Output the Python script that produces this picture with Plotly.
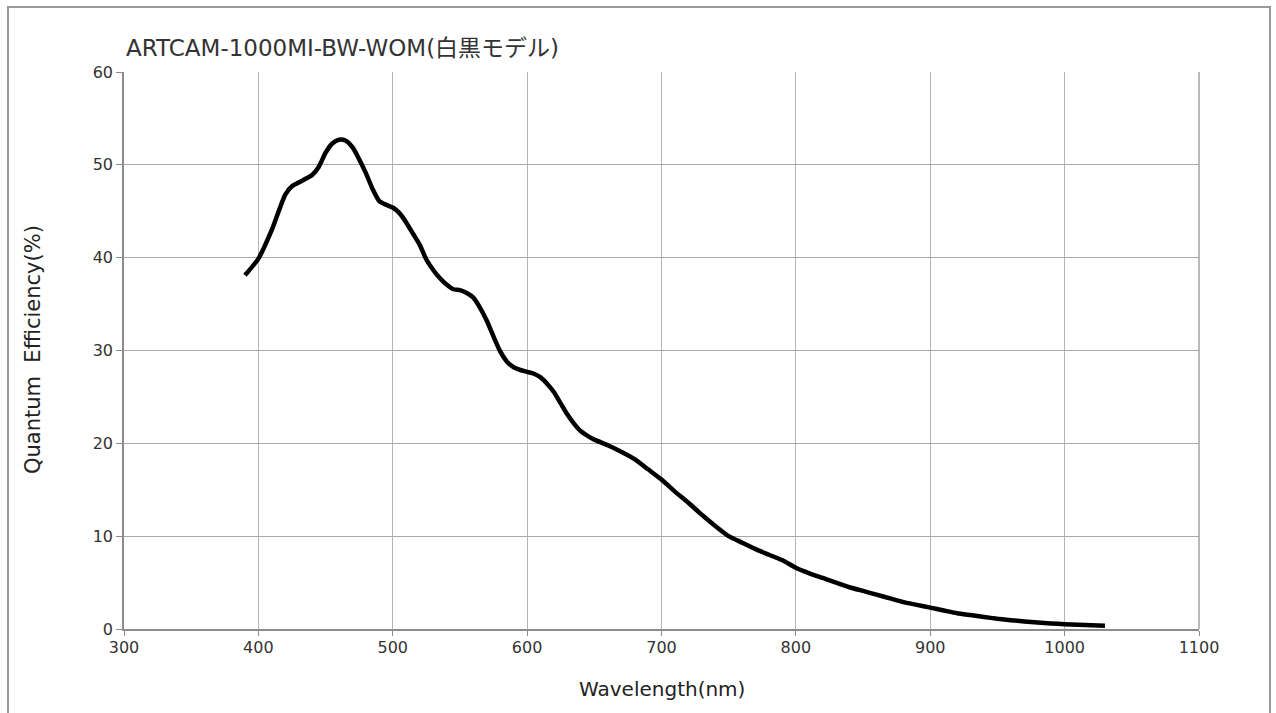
import plotly.graph_objects as go

# Spectral response of the monochrome sensor
wavelength_nm = [390, 400, 410, 420, 425, 430, 440, 445, 450, 455, 460, 465, 470, 475,
                 480, 485, 490, 495, 500, 505, 510, 515, 520, 525, 530, 535, 540, 545,
                 550, 555, 560, 565, 570, 575, 580, 585, 590, 595, 600, 605, 610, 615,
                 620, 625, 630, 635, 640, 645, 650, 660, 670, 680, 690, 700, 710, 720,
                 730, 740, 750, 760, 770, 780, 790, 800, 810, 820, 830, 840, 850, 860,
                 870, 880, 890, 900, 910, 920, 930, 940, 950, 960, 970, 980, 990, 1000,
                 1010, 1020, 1030]
quantum_eff = [38.1, 39.9, 43.0, 46.8, 47.7, 48.1, 48.9, 49.8, 51.3, 52.3, 52.7, 52.6, 51.9, 50.6,
               49.1, 47.4, 46.1, 45.7, 45.4, 44.8, 43.8, 42.6, 41.4, 39.8, 38.7, 37.8, 37.1, 36.6,
               36.5, 36.2, 35.7, 34.6, 33.2, 31.5, 29.9, 28.8, 28.2, 27.9, 27.7, 27.5, 27.1, 26.4,
               25.5, 24.3, 23.1, 22.1, 21.3, 20.8, 20.4, 19.8, 19.1, 18.3, 17.2, 16.1, 14.8, 13.6,
               12.3, 11.1, 10.0, 9.3, 8.6, 8.0, 7.4, 6.6, 6.0, 5.5, 5.0, 4.5, 4.1, 3.7,
               3.3, 2.9, 2.6, 2.3, 2.0, 1.7, 1.5, 1.3, 1.1, 0.95, 0.82, 0.7, 0.6, 0.52,
               0.45, 0.4, 0.36]

x_ticks = [300, 400, 500, 600, 700, 800, 900, 1000, 1100]
y_ticks = [0, 10, 20, 30, 40, 50, 60]

title_text = "ARTCAM-1000MI-BW-WOM(白黒モデル)"
x_title = "Wavelength(nm)"
y_title = "Quantum  Efficiency(%)"

FONT = "DejaVu Sans, Noto Sans CJK JP"

fig = go.Figure()
fig.add_trace(go.Scatter(
    x=wavelength_nm, y=quantum_eff, mode="lines",
    line=dict(color="black", width=4.5, shape="spline", smoothing=0.6),
    showlegend=False, hoverinfo="x+y",
))

W, H = 1276, 713
L, R, T, B = 124, 1199, 72, 629
pw, ph = R - L, B - T


def px_x(p):
    return (p - L) / pw


def px_y(p):
    return (B - p) / ph


fig.update_layout(
    width=W, height=H,
    margin=dict(l=L, r=W - R, t=T, b=H - B),
    paper_bgcolor="white", plot_bgcolor="white",
    font=dict(family=FONT, color="#333333", size=16),
    xaxis=dict(
        range=[300, 1100], tickvals=x_ticks, ticktext=[str(v) for v in x_ticks],
        showgrid=True, gridcolor="#b4b4b4", gridwidth=1,
        showline=True, linecolor="#8c8c8c", linewidth=1.5,
        ticks="outside", ticklen=5, tickcolor="#8c8c8c",
        ticklabelstandoff=-2,
        zeroline=False, tickfont=dict(size=16, color="#333333"),
    ),
    yaxis=dict(
        range=[0, 60], tickvals=y_ticks, ticktext=[str(v) for v in y_ticks],
        showgrid=True, gridcolor="#a8a8a8", gridwidth=1,
        showline=True, linecolor="#8c8c8c", linewidth=1.5,
        ticks="outside", ticklen=6, tickcolor="#8c8c8c",
        zeroline=False, tickfont=dict(size=16, color="#333333"),
    ),
    shapes=[
        # right edge of the plot frame
        dict(type="line", xref="paper", yref="paper", x0=1, x1=1, y0=0, y1=1,
             line=dict(color="#a0a0a0", width=1.5)),
        # outer chart border
        dict(type="rect", xref="paper", yref="paper",
             x0=px_x(8), x1=px_x(1270), y0=px_y(750), y1=px_y(7),
             line=dict(color="#999999", width=2), layer="below"),
    ],
    annotations=[
        dict(text=title_text, xref="paper", yref="paper",
             x=px_x(124), y=px_y(48), xanchor="left", yanchor="middle",
             showarrow=False, font=dict(family=FONT, size=23, color="#333333")),
        dict(text=x_title, xref="paper", yref="paper",
             x=px_x(662), y=px_y(689), xanchor="center", yanchor="middle",
             showarrow=False, font=dict(family=FONT, size=20, color="#222222")),
        dict(text=y_title, xref="paper", yref="paper",
             x=px_x(33), y=px_y(350), xanchor="center", yanchor="middle",
             textangle=-90, showarrow=False,
             font=dict(family=FONT, size=21, color="#222222")),
    ],
)

fig.write_html("out.html")
